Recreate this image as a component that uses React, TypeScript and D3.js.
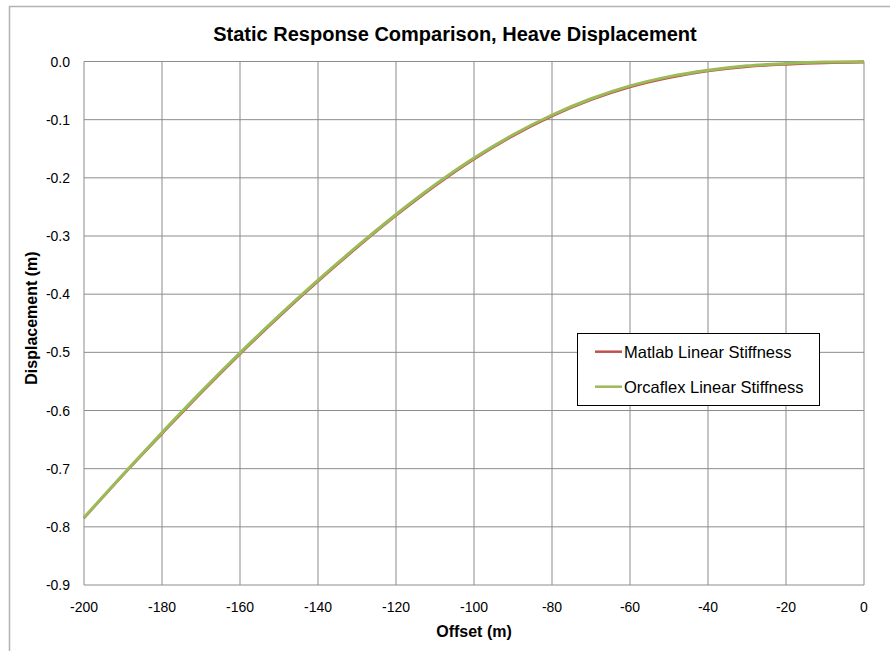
import React from "react";
import * as d3 from "d3";

// Lateral offset of the vessel (m)
const offsets = [
  -200, -190, -180, -170, -160, -150, -140, -130, -120, -110, -100,
  -90, -80, -70, -60, -50, -40, -30, -20, -10, 0,
];

// Heave displacement (m) from the Matlab linear-stiffness model
const matlabDisp = [
  -0.785, -0.711, -0.640, -0.570, -0.503, -0.439, -0.378, -0.320, -0.265, -0.214, -0.168,
  -0.128, -0.094, -0.066, -0.044, -0.028, -0.0165, -0.009, -0.005, -0.0025, -0.0015,
];

// Heave displacement (m) from the Orcaflex linear-stiffness model
const orcaflexDisp = [
  -0.784, -0.710, -0.638, -0.568, -0.501, -0.437, -0.376, -0.318, -0.263, -0.212, -0.166,
  -0.126, -0.092, -0.064, -0.042, -0.026, -0.015, -0.0075, -0.0035, -0.001, 0,
];

const xTickValues = [-200, -180, -160, -140, -120, -100, -80, -60, -40, -20, 0];
const xTickLabels = ["-200", "-180", "-160", "-140", "-120", "-100", "-80", "-60", "-40", "-20", "0"];
const yTickValues = [0, -0.1, -0.2, -0.3, -0.4, -0.5, -0.6, -0.7, -0.8, -0.9];
const yTickLabels = ["0.0", "-0.1", "-0.2", "-0.3", "-0.4", "-0.5", "-0.6", "-0.7", "-0.8", "-0.9"];

const seriesNames = ["Matlab Linear Stiffness", "Orcaflex Linear Stiffness"];
const seriesColors = ["#C0504D", "#9BBB59"];

const W = 890;
const H = 651;
const plot = { left: 84, right: 864, top: 61.5, bottom: 585 };
const font = "'Liberation Sans', Arial, sans-serif";

export default function App() {
  const x = d3.scaleLinear().domain([-200, 0]).range([plot.left, plot.right]);
  const y = d3.scaleLinear().domain([-0.9, 0]).range([plot.bottom, plot.top]);

  const line = d3
    .line<[number, number]>()
    .x((d) => x(d[0]))
    .y((d) => y(d[1]))
    .curve(d3.curveMonotoneX);

  const matlabPts = offsets.map((o, i) => [o, matlabDisp[i]] as [number, number]);
  const orcaPts = offsets.map((o, i) => [o, orcaflexDisp[i]] as [number, number]);

  const grid = "#8c8c8c";

  return (
    <svg
      width={W}
      height={H}
      style={{ position: "absolute", left: 0, top: 0, background: "#fff" }}
      fontFamily={font}
    >
      {/* chart frame */}
      <rect x={9.5} y={6.5} width={1000} height={1000} fill="#fff" stroke="#b3b3b3" strokeWidth={1.5} />

      {/* title */}
      <text x={455} y={41} textAnchor="middle" fontSize={20} fontWeight="bold" fill="#000">
        Static Response Comparison, Heave Displacement
      </text>

      {/* horizontal gridlines */}
      {yTickValues.map((v) => (
        <line key={"h" + v} x1={plot.left} x2={plot.right} y1={y(v)} y2={y(v)} stroke={grid} strokeWidth={1} />
      ))}
      {/* vertical gridlines */}
      {xTickValues.map((v) => (
        <line key={"v" + v} x1={x(v)} x2={x(v)} y1={plot.top} y2={plot.bottom} stroke={grid} strokeWidth={1} />
      ))}

      {/* y tick labels */}
      {yTickValues.map((v, i) => (
        <text key={"yl" + v} x={70} y={y(v) + 5} textAnchor="end" fontSize={14} fill="#000">
          {yTickLabels[i]}
        </text>
      ))}
      {/* x tick labels */}
      {xTickValues.map((v, i) => (
        <text key={"xl" + v} x={x(v)} y={612} textAnchor="middle" fontSize={14} fill="#000">
          {xTickLabels[i]}
        </text>
      ))}

      {/* axis titles */}
      <text x={474} y={636.5} textAnchor="middle" fontSize={16} fontWeight="bold" fill="#000">
        Offset (m)
      </text>
      <text
        transform={`translate(37, 318) rotate(-90)`}
        textAnchor="middle"
        fontSize={16}
        fontWeight="bold"
        fill="#000"
      >
        Displacement (m)
      </text>

      {/* series */}
      <path d={line(matlabPts) || ""} fill="none" stroke={seriesColors[0]} strokeWidth={2.5} />
      <path d={line(orcaPts) || ""} fill="none" stroke={seriesColors[1]} strokeWidth={3} />

      {/* legend */}
      <rect x={577.5} y={333.5} width={242} height={72} fill="#fff" stroke="#000" strokeWidth={1} />
      {seriesNames.map((name, i) => {
        const cy = 351.7 + i * 35;
        return (
          <g key={name}>
            <line x1={595} x2={622} y1={cy} y2={cy} stroke={seriesColors[i]} strokeWidth={2.5} />
            <text x={624} y={cy + 6} fontSize={16.5} fill="#000">
              {name}
            </text>
          </g>
        );
      })}
    </svg>
  );
}
